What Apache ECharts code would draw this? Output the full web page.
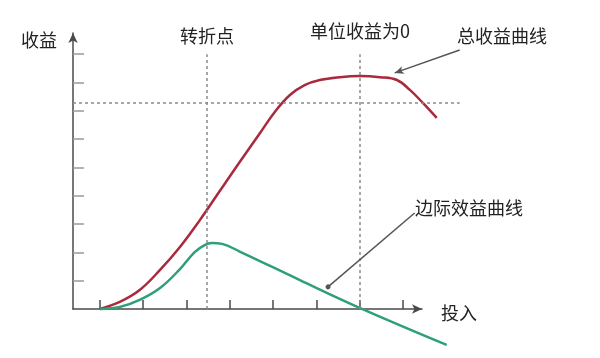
<!DOCTYPE html>
<html><head><meta charset="utf-8">
<script src="https://cdn.jsdelivr.net/npm/echarts/dist/echarts.min.js"></script>
<style>html,body{margin:0;padding:0;background:#fff}#c{width:600px;height:358px}</style>
</head><body><div id="c"></div>
<script>
// Total revenue curve (x = input, y = revenue)
const totalX = [0, 0.46, 0.92, 1.39, 1.85, 2.31, 2.77, 3.23, 3.70, 4.04, 4.39, 4.73, 5.08, 5.54, 6.00, 6.47, 6.86, 7.16, 7.46, 7.78];
const totalY = [0, 0.25, 0.67, 1.38, 2.19, 3.14, 4.17, 5.19, 6.22, 6.96, 7.56, 7.91, 8.09, 8.19, 8.23, 8.19, 8.09, 7.74, 7.28, 6.75];
// Marginal revenue curve
const margX = [0, 0.46, 0.92, 1.39, 1.85, 2.19, 2.42, 2.59, 2.82, 3.23, 4.62, 6.00, 8.01];
const margY = [0, 0.07, 0.32, 0.74, 1.41, 2.01, 2.26, 2.33, 2.30, 2.03, 1.02, 0.04, -1.27];
// Axis tick values
const xTicks = [0, 1, 2, 3, 4, 5, 6, 7];
const yTicks = [1, 2, 3, 4, 5, 6, 7, 8, 9];
// Reference lines
const turnX = 2.47;         // 转折点
const zeroMargX = 6.0;      // 单位收益为0
const peakY = 7.28;         // horizontal dashed level
const refTop = 9;
const hLineEnd = 8.31;
// Text labels
const labels = {
  yName: '收益', xName: '投入', turn: '转折点', zero: '单位收益为0',
  total: '总收益曲线', marg: '边际效益曲线'
};
// Pointer lines [from, to] in data coordinates
const totalPointer = [[8.31, 9.15], [6.81, 8.34]];
const margPointer = [[7.27, 3.39], [5.27, 0.78]];

// Axis ranges
const xMin = -0.62, xMax = 7.44, yMin = 0, yMax = 9.75;
const W = 600, H = 358;
const g0 = { left: 73, right: 178, top: 33, bottom: 49 };
const g1 = { left: 73, right: 120, top: 33, bottom: 6 };
const pxX = (W - g0.left - g0.right) / (xMax - xMin);
const pxY = (H - g0.top - g0.bottom) / (yMax - yMin);
const x1Max = xMin + (W - g1.left - g1.right) / pxX;
const y1Min = yMax - (H - g1.top - g1.bottom) / pxY;

const font = '"Noto Sans CJK SC", "Noto Sans", sans-serif';
const chart = echarts.init(document.getElementById('c'));
const dash = { color: '#8a8a8a', type: [3, 3], width: 1.5 };
const txt = (t, x, y) => ({
  type: 'text', x, y, silent: true,
  style: { text: t, fill: '#222', fontSize: 18, fontFamily: font, align: 'center', verticalAlign: 'middle' }
});

chart.setOption({
  animation: false,
  grid: [g0, g1],
  xAxis: [{
    type: 'value', gridIndex: 0, min: xMin, max: xMax,
    axisLine: { onZero: false, lineStyle: { color: '#4a4a4a', width: 1.5 }, symbol: ['none', 'arrow'], symbolSize: [7, 10] },
    axisTick: { show: true, inside: true, length: 9, customValues: xTicks, lineStyle: { color: '#4a4a4a', width: 1.5 } },
    axisLabel: { show: false }, splitLine: { show: false }
  }, {
    type: 'value', gridIndex: 1, min: xMin, max: x1Max, show: false
  }],
  yAxis: [{
    type: 'value', gridIndex: 0, min: yMin, max: yMax,
    axisLine: { show: true, onZero: false, lineStyle: { color: '#4a4a4a', width: 1.5 }, symbol: ['none', 'arrow'], symbolSize: [7, 10] },
    axisTick: { show: true, inside: true, length: 11, customValues: yTicks, lineStyle: { color: '#9a9a9a', width: 1.5 } },
    axisLabel: { show: false }, splitLine: { show: false }
  }, {
    type: 'value', gridIndex: 1, min: y1Min, max: yMax, show: false
  }],
  series: [
    {
      type: 'line', xAxisIndex: 1, yAxisIndex: 1, smooth: 0.4, showSymbol: false, z: 3,
      data: totalX.map((x, i) => [x, totalY[i]]),
      lineStyle: { color: '#a82a3c', width: 2.5 },
      markLine: {
        silent: true, symbol: ['none', 'none'], label: { show: false },
        data: [
          [{ coord: [turnX, 0], lineStyle: dash }, { coord: [turnX, refTop] }],
          [{ coord: [zeroMargX, 0], lineStyle: dash }, { coord: [zeroMargX, refTop] }],
          [{ coord: [xMin, peakY], lineStyle: dash }, { coord: [hLineEnd, peakY] }],
          [{ coord: totalPointer[0], symbol: 'none', lineStyle: { color: '#555', width: 1.5, type: 'solid' } },
           { coord: totalPointer[1], symbol: 'arrow', symbolSize: [6, 9] }],
          [{ coord: margPointer[0], symbol: 'none', lineStyle: { color: '#555', width: 1.5, type: 'solid' } },
           { coord: margPointer[1], symbol: 'circle', symbolSize: 5 }]
        ]
      }
    },
    {
      type: 'line', xAxisIndex: 1, yAxisIndex: 1, smooth: 0.4, showSymbol: false, z: 3,
      data: margX.map((x, i) => [x, margY[i]]),
      lineStyle: { color: '#2e9f78', width: 2.5 }
    }
  ],
  graphic: [
    txt(labels.yName, 39, 40),
    txt(labels.xName, 459, 313),
    txt(labels.turn, 207, 36),
    txt(labels.zero, 360, 31),
    txt(labels.total, 502, 36),
    txt(labels.marg, 469, 208)
  ]
});
</script>
</body></html>
